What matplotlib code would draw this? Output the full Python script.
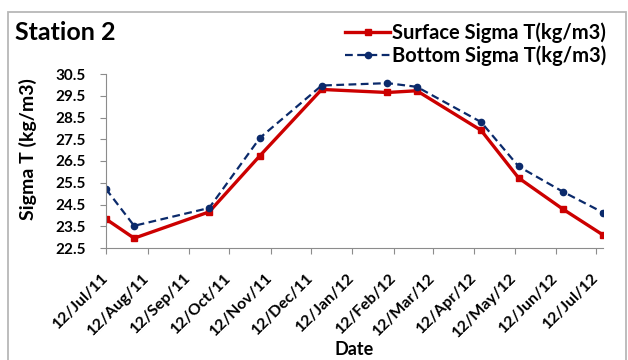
import datetime as dt
import matplotlib
matplotlib.use("Agg")
import matplotlib.pyplot as plt
import matplotlib.dates as mdates
from matplotlib.patches import Rectangle

plt.rcParams['font.family'] = ['Lato', 'DejaVu Sans']

# sampling dates
dates = [dt.date(2011, 7, 12), dt.date(2011, 8, 2), dt.date(2011, 9, 27),
         dt.date(2011, 11, 4), dt.date(2011, 12, 20), dt.date(2012, 2, 7),
         dt.date(2012, 2, 29), dt.date(2012, 4, 17), dt.date(2012, 5, 15),
         dt.date(2012, 6, 17), dt.date(2012, 7, 17)]
surface = [23.83, 22.95, 24.16, 26.75, 29.79, 29.65, 29.73, 27.91, 25.72, 24.29, 23.10]
bottom = [25.21, 23.52, 24.34, 27.57, 29.97, 30.08, 29.91, 28.29, 26.25, 25.09, 24.13]

yticks = [22.5, 23.5, 24.5, 25.5, 26.5, 27.5, 28.5, 29.5, 30.5]

fig = plt.figure(figsize=(6.28, 3.6), dpi=100)
ax = fig.add_axes([106 / 628, 1 - 248 / 360, (603 - 106) / 628, (248 - 74) / 360])

# chart area border
fig.patches.append(Rectangle((8 / 628, -0.1), (626 - 8) / 628, 1.1 - 12 / 360,
                             transform=fig.transFigure, fill=False,
                             edgecolor='#b8b8b8', linewidth=1.3))

ax.plot(dates, surface, color='#cc0000', linewidth=2.4, marker='s', markersize=5,
        label='Surface Sigma T(kg/m3)')
ax.plot(dates, bottom, color='#0b2a6b', linewidth=1.6, linestyle=(0, (3.5, 2)),
        marker='o', markersize=4.5, label='Bottom Sigma T(kg/m3)')

ax.set_xlim(dt.date(2011, 7, 12), dt.date(2012, 7, 17))
ax.set_ylim(22.5, 30.5)
ax.set_yticks(yticks)
ax.set_yticklabels([f"{v:.1f}" for v in yticks], fontsize=11, fontweight='bold')

ax.xaxis.set_major_locator(mdates.MonthLocator(bymonthday=12))
ax.xaxis.set_major_formatter(mdates.DateFormatter('%d/%b/%y'))
for lbl in ax.get_xticklabels():
    lbl.set_rotation(45)
    lbl.set_ha('right')
    lbl.set_va('center')
    lbl.set_rotation_mode('anchor')
    lbl.set_fontsize(11.5)
    lbl.set_fontweight('bold')

for side in ['top', 'right']:
    ax.spines[side].set_visible(False)
for side in ['left', 'bottom']:
    ax.spines[side].set_color('#8c8c8c')
ax.tick_params(axis='y', direction='out', length=4.5, color='#8c8c8c', pad=10)
ax.tick_params(axis='x', direction='out', length=4, color='#8c8c8c', pad=16)

ax.set_ylabel('Sigma T (kg/m3)', fontsize=14, fontweight='bold')
ax.yaxis.set_label_coords(-0.139, 0.57)
ax.set_xlabel('Date', fontsize=13, fontweight='bold', labelpad=1)

fig.text(15 / 628, 1 - 32.5 / 360, 'Station 2', fontsize=18, fontweight='bold',
         va='center', ha='left')

fig.legend(loc='upper right', bbox_to_anchor=(614 / 628, 1 - 14 / 360), frameon=False,
           prop={'size': 14.5, 'weight': 'bold'}, handlelength=2.2, handletextpad=0.1,
           labelspacing=0.15, borderaxespad=0)

fig.savefig('out.png', dpi=100)
